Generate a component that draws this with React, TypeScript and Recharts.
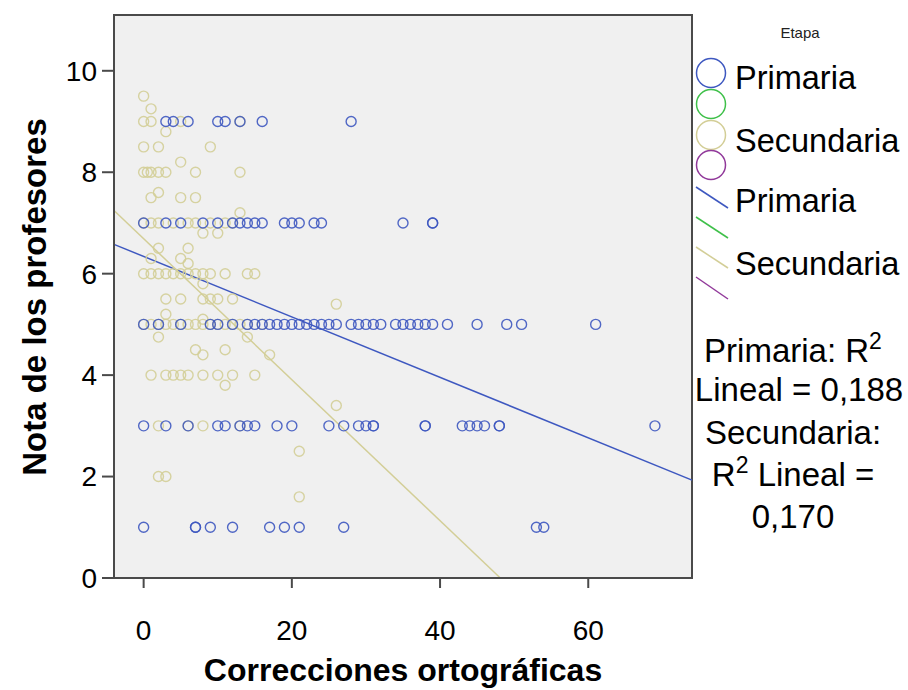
import React from "react";
import {
  ScatterChart,
  Scatter,
  XAxis,
  YAxis,
  CartesianGrid,
  ReferenceLine,
  ReferenceArea,
} from "recharts";

// ---------- data ----------
const primariaPoints: [number, number][] = [
  [3, 9], [4, 9], [6, 9], [10, 9], [11, 9], [13, 9], [16, 9], [28, 9],
  [0, 7], [3, 7], [5, 7], [8, 7], [10, 7], [12, 7], [13, 7], [14, 7], [15, 7], [16, 7],
  [19, 7], [20, 7], [21, 7], [23, 7], [24, 7], [35, 7], [39, 7], [39, 7],
  [0, 5], [2, 5], [5, 5], [9, 5], [10, 5], [12, 5], [14, 5], [15, 5], [16, 5], [17, 5],
  [18, 5], [19, 5], [20, 5], [21, 5], [22, 5], [23, 5], [24, 5], [25, 5], [26, 5], [28, 5],
  [29, 5], [30, 5], [31, 5], [32, 5], [34, 5], [35, 5], [36, 5], [37, 5], [38, 5], [39, 5],
  [41, 5], [45, 5], [49, 5], [51, 5], [61, 5],
  [0, 3], [3, 3], [6, 3], [10, 3], [11, 3], [13, 3], [14, 3], [15, 3], [18, 3], [20, 3],
  [25, 3], [27, 3], [29, 3], [30, 3], [31, 3], [31, 3], [38, 3], [38, 3], [43, 3], [44, 3],
  [45, 3], [46, 3], [48, 3], [48, 3], [69, 3],
  [0, 1], [7, 1], [7, 1], [9, 1], [12, 1], [17, 1], [19, 1], [21, 1], [27, 1], [53, 1], [54, 1],
];

const secundariaPoints: [number, number][] = [
  [0, 9.5], [1, 9.25], [0, 9], [1, 9], [5, 9], [13, 9], [3, 8.8],
  [0, 8.5], [2, 8.5], [9, 8.5], [5, 8.2],
  [0, 8], [0.5, 8], [1, 8], [2, 8], [3, 8], [7, 8], [13, 8],
  [2, 7.6], [1, 7.5], [5, 7.5], [7, 7.5], [13, 7.2],
  [0, 7], [1, 7], [2, 7], [4, 7], [6, 7], [7, 7], [9, 7], [11, 7], [12, 7],
  [8, 6.8], [10, 6.8], [2, 6.5], [6, 6.5], [1, 6.3], [5, 6.3], [6, 6.2],
  [0, 6], [1, 6], [2, 6], [3, 6], [4, 6], [5, 6], [6, 6], [7, 6], [8, 6], [9, 6], [11, 6], [14, 6], [15, 6],
  [8, 5.8], [3, 5.5], [5, 5.5], [8, 5.5], [9, 5.5], [10, 5.5], [12, 5.5],
  [26, 5.4], [3, 5.2], [8, 5.1],
  [0, 5], [1, 5], [2, 5], [3, 5], [4, 5], [5, 5], [6, 5], [7, 5], [8, 5], [9, 5], [10, 5],
  [11, 5], [12, 5], [13, 5], [14, 5], [16, 5],
  [2, 4.75], [14, 4.75], [7, 4.5], [11, 4.5], [8, 4.4], [17, 4.4],
  [1, 4], [3, 4], [4, 4], [5, 4], [6, 4], [8, 4], [10, 4], [12, 4], [15, 4],
  [11, 3.8], [26, 3.4],
  [2, 3], [6, 3], [8, 3], [13, 3],
  [21, 2.5], [2, 2], [3, 2], [21, 1.6],
];

// fit lines: y = intercept + slope * x
const primariaFit = { intercept: 6.34, slope: -0.0596 };
const secundariaFit = { intercept: 6.69, slope: -0.139 };

const xTicks = [0, 20, 40, 60];
const yTicks = [0, 2, 4, 6, 8, 10];
const xDomain: [number, number] = [-4, 74];
const yDomain: [number, number] = [0, 11.1];

const BLUE = "#3e58c0";
const TAN = "#d3ce97";
const GREEN = "#3fc04a";
const PURPLE = "#91399a";
const FONT = "'Liberation Sans', Arial, sans-serif";

const toObjs = (pts: [number, number][]) => pts.map(([x, y]) => ({ x, y }));

const ring = (color: string) => (props: any) => {
  const { cx, cy } = props;
  if (cx == null || cy == null) return <g />;
  return <circle cx={cx} cy={cy} r={5} fill="none" stroke={color} strokeWidth={1.4} strokeOpacity={0.9} />;
};

const secEnd = -secundariaFit.intercept / secundariaFit.slope;

export default function App() {
  return (
    <div style={{ position: "absolute", left: 0, top: 0, width: 908, height: 690, background: "#fff", fontFamily: FONT, overflow: "hidden" }}>
      <ScatterChart width={908} height={690} margin={{ top: 15, right: 216, bottom: 52, left: 54 }}>
        <CartesianGrid fill="#f0f0f0" horizontal={false} vertical={false} />
        <XAxis
          type="number"
          dataKey="x"
          domain={xDomain}
          ticks={xTicks}
          allowDataOverflow
          height={60}
          tickSize={10}
          tickMargin={32}
          stroke="#4a4a4a"
          strokeWidth={2}
          tick={{ fill: "#000", fontSize: 28, fontFamily: FONT }}
        />
        <YAxis
          type="number"
          dataKey="y"
          domain={yDomain}
          ticks={yTicks}
          allowDataOverflow
          width={60}
          tickSize={12}
          tickMargin={5}
          stroke="#4a4a4a"
          strokeWidth={2}
          tick={{ fill: "#000", fontSize: 28, fontFamily: FONT }}
        />
        <Scatter data={toObjs(secundariaPoints)} shape={ring(TAN)} isAnimationActive={false} />
        <Scatter data={toObjs(primariaPoints)} shape={ring(BLUE)} isAnimationActive={false} />
        <ReferenceLine
          segment={[
            { x: xDomain[0], y: primariaFit.intercept + primariaFit.slope * xDomain[0] },
            { x: xDomain[1], y: primariaFit.intercept + primariaFit.slope * xDomain[1] },
          ]}
          stroke={BLUE}
          strokeWidth={1.5}
          ifOverflow="visible"
        />
        <ReferenceLine
          segment={[
            { x: xDomain[0], y: secundariaFit.intercept + secundariaFit.slope * xDomain[0] },
            { x: secEnd, y: 0 },
          ]}
          stroke={TAN}
          strokeWidth={1.5}
          ifOverflow="visible"
        />
        <ReferenceArea
          x1={xDomain[0]}
          x2={xDomain[1]}
          y1={yDomain[0]}
          y2={yDomain[1]}
          fill="none"
          stroke="#4a4a4a"
          strokeWidth={2}
          ifOverflow="visible"
        />
      </ScatterChart>

      {/* axis titles */}
      <div
        style={{
          position: "absolute",
          left: 35,
          top: 297,
          transform: "translate(-50%, -50%) rotate(-90deg)",
          whiteSpace: "nowrap",
          fontWeight: "bold",
          fontSize: 33,
          color: "#000",
        }}
      >
        Nota de los profesores
      </div>
      <div
        style={{
          position: "absolute",
          left: 403,
          top: 670,
          transform: "translate(-50%, -50%)",
          whiteSpace: "nowrap",
          fontWeight: "bold",
          fontSize: 32,
          lineHeight: "36px",
          color: "#000",
        }}
      >
        Correcciones ortográficas
      </div>

      {/* legend */}
      <svg style={{ position: "absolute", left: 0, top: 0 }} width={908} height={690} pointerEvents="none">
        <text x={800} y={38} textAnchor="middle" fontSize={15} fontFamily={FONT} fill="#222">Etapa</text>
        <circle cx={711} cy={73} r={14.5} fill="none" stroke={BLUE} strokeWidth={1.5} />
        <circle cx={711} cy={104} r={14.5} fill="none" stroke={GREEN} strokeWidth={1.5} />
        <circle cx={711} cy={135} r={14.5} fill="none" stroke={TAN} strokeWidth={1.5} />
        <circle cx={711} cy={165} r={14.5} fill="none" stroke={PURPLE} strokeWidth={1.5} />
        <text x={735} y={89} fontSize={32.5} fontFamily={FONT} fill="#000">Primaria</text>
        <text x={735} y={152} fontSize={32.5} fontFamily={FONT} fill="#000">Secundaria</text>
        <line x1={696} y1={187} x2={728} y2={208} stroke={BLUE} strokeWidth={1.5} />
        <line x1={696} y1={217} x2={728} y2={238} stroke={GREEN} strokeWidth={1.5} />
        <line x1={696} y1={247} x2={728} y2={268} stroke={TAN} strokeWidth={1.5} />
        <line x1={696} y1={277} x2={728} y2={299} stroke={PURPLE} strokeWidth={1.5} />
        <text x={735} y={212} fontSize={32.5} fontFamily={FONT} fill="#000">Primaria</text>
        <text x={735} y={275} fontSize={32.5} fontFamily={FONT} fill="#000">Secundaria</text>

        <text x={793} y={362} textAnchor="middle" fontSize={33} fontFamily={FONT} fill="#000">
          Primaria: R<tspan dy={-13} fontSize={23}>2</tspan>
        </text>
        <text x={799} y={401} textAnchor="middle" fontSize={33} fontFamily={FONT} fill="#000">Lineal = 0,188</text>
        <text x={793} y={444} textAnchor="middle" fontSize={33} fontFamily={FONT} fill="#000">Secundaria:</text>
        <text x={793} y={486} textAnchor="middle" fontSize={33} fontFamily={FONT} fill="#000">
          R<tspan dy={-13} fontSize={23}>2</tspan>
          <tspan dy={13}> Lineal =</tspan>
        </text>
        <text x={793} y={528} textAnchor="middle" fontSize={33} fontFamily={FONT} fill="#000">0,170</text>
      </svg>
    </div>
  );
}
